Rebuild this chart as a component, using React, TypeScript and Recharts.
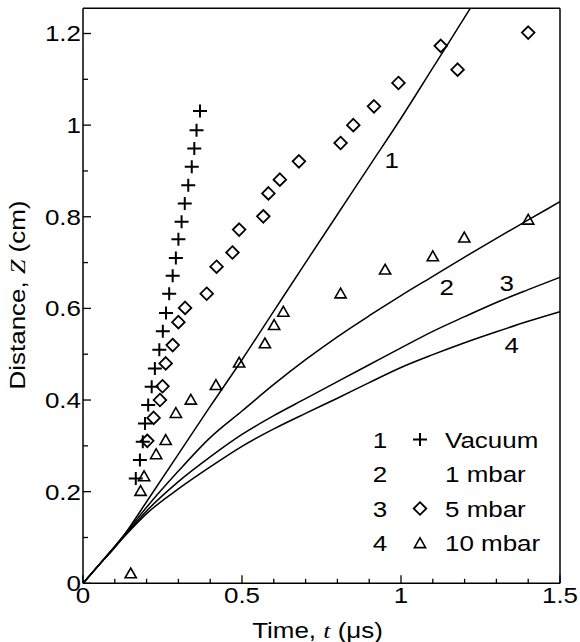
import React from 'react';
import { ComposedChart, Line, Scatter, XAxis, YAxis, ReferenceLine } from 'recharts';

// axis ticks (minor + major) and labelled values
const timeTicks = [0, 0.1, 0.2, 0.3, 0.4, 0.5, 0.6, 0.7, 0.8, 0.9, 1, 1.1, 1.2, 1.3, 1.4, 1.5];
const timeLabels = [0, 0.5, 1, 1.5];
const distTicks = [0, 0.1, 0.2, 0.3, 0.4, 0.5, 0.6, 0.7, 0.8, 0.9, 1, 1.1, 1.2];
const distLabels = [0, 0.2, 0.4, 0.6, 0.8, 1, 1.2];
const tMax = 1.5;
const zMax = 1.255;

// measured points
const vacuum = [
  { t: 0.166, z: 0.229 }, { t: 0.179, z: 0.269 }, { t: 0.188, z: 0.309 }, { t: 0.195, z: 0.349 },
  { t: 0.205, z: 0.389 }, { t: 0.216, z: 0.429 }, { t: 0.226, z: 0.469 }, { t: 0.24, z: 0.51 },
  { t: 0.251, z: 0.55 }, { t: 0.261, z: 0.59 }, { t: 0.271, z: 0.632 }, { t: 0.282, z: 0.671 },
  { t: 0.292, z: 0.71 }, { t: 0.3, z: 0.751 }, { t: 0.31, z: 0.789 }, { t: 0.32, z: 0.829 },
  { t: 0.331, z: 0.869 }, { t: 0.342, z: 0.909 }, { t: 0.35, z: 0.949 }, { t: 0.357, z: 0.989 },
  { t: 0.368, z: 1.031 },
];

const mbar5 = [
  { t: 0.202, z: 0.311 }, { t: 0.222, z: 0.361 }, { t: 0.242, z: 0.4 }, { t: 0.25, z: 0.43 },
  { t: 0.26, z: 0.48 }, { t: 0.282, z: 0.52 }, { t: 0.3, z: 0.57 }, { t: 0.321, z: 0.601 },
  { t: 0.389, z: 0.632 }, { t: 0.42, z: 0.691 }, { t: 0.47, z: 0.722 }, { t: 0.491, z: 0.772 },
  { t: 0.567, z: 0.801 }, { t: 0.583, z: 0.851 }, { t: 0.619, z: 0.881 }, { t: 0.679, z: 0.921 },
  { t: 0.81, z: 0.961 }, { t: 0.85, z: 1.0 }, { t: 0.915, z: 1.041 }, { t: 0.992, z: 1.092 },
  { t: 1.125, z: 1.173 }, { t: 1.178, z: 1.121 }, { t: 1.4, z: 1.202 },
];

const mbar10 = [
  { t: 0.15, z: 0.022 }, { t: 0.181, z: 0.202 }, { t: 0.192, z: 0.234 }, { t: 0.23, z: 0.282 },
  { t: 0.26, z: 0.313 }, { t: 0.292, z: 0.372 }, { t: 0.339, z: 0.401 }, { t: 0.418, z: 0.433 },
  { t: 0.491, z: 0.482 }, { t: 0.572, z: 0.524 }, { t: 0.601, z: 0.564 }, { t: 0.63, z: 0.593 },
  { t: 0.81, z: 0.633 }, { t: 0.95, z: 0.685 }, { t: 1.1, z: 0.714 }, { t: 1.199, z: 0.755 },
  { t: 1.4, z: 0.794 },
];

// model curves
const curve1 = [
  { t: 0, z: 0 }, { t: 0.05, z: 0.04 }, { t: 0.1, z: 0.078 }, { t: 0.15, z: 0.126 }, { t: 0.2, z: 0.178 },
  { t: 0.3, z: 0.282 }, { t: 0.4, z: 0.386 }, { t: 0.5, z: 0.488 }, { t: 0.6, z: 0.594 }, { t: 0.7, z: 0.7 },
  { t: 0.8, z: 0.805 }, { t: 0.9, z: 0.91 }, { t: 1.0, z: 1.015 }, { t: 1.1, z: 1.125 }, { t: 1.2, z: 1.235 },
  { t: 1.218, z: 1.255 },
];
const curve2 = [
  { t: 0, z: 0 }, { t: 0.05, z: 0.04 }, { t: 0.1, z: 0.081 }, { t: 0.15, z: 0.123 }, { t: 0.2, z: 0.166 },
  { t: 0.3, z: 0.245 }, { t: 0.4, z: 0.318 }, { t: 0.5, z: 0.376 }, { t: 0.6, z: 0.434 }, { t: 0.7, z: 0.488 },
  { t: 0.8, z: 0.538 }, { t: 0.9, z: 0.584 }, { t: 1.0, z: 0.628 }, { t: 1.1, z: 0.67 }, { t: 1.2, z: 0.712 },
  { t: 1.3, z: 0.753 }, { t: 1.4, z: 0.793 }, { t: 1.5, z: 0.833 },
];
const curve3 = [
  { t: 0, z: 0 }, { t: 0.05, z: 0.04 }, { t: 0.1, z: 0.08 }, { t: 0.15, z: 0.12 }, { t: 0.2, z: 0.158 },
  { t: 0.3, z: 0.222 }, { t: 0.4, z: 0.276 }, { t: 0.5, z: 0.325 }, { t: 0.6, z: 0.366 }, { t: 0.7, z: 0.403 },
  { t: 0.8, z: 0.44 }, { t: 0.9, z: 0.477 }, { t: 1.0, z: 0.514 }, { t: 1.1, z: 0.55 }, { t: 1.2, z: 0.582 },
  { t: 1.3, z: 0.613 }, { t: 1.4, z: 0.641 }, { t: 1.5, z: 0.668 },
];
const curve4 = [
  { t: 0, z: 0 }, { t: 0.05, z: 0.04 }, { t: 0.1, z: 0.079 }, { t: 0.15, z: 0.117 }, { t: 0.2, z: 0.152 },
  { t: 0.3, z: 0.206 }, { t: 0.4, z: 0.254 }, { t: 0.5, z: 0.299 }, { t: 0.6, z: 0.337 }, { t: 0.7, z: 0.371 },
  { t: 0.8, z: 0.404 }, { t: 0.9, z: 0.438 }, { t: 1.0, z: 0.471 }, { t: 1.1, z: 0.499 }, { t: 1.2, z: 0.525 },
  { t: 1.3, z: 0.549 }, { t: 1.4, z: 0.572 }, { t: 1.5, z: 0.593 },
];

const legendRows = [
  { num: '1', name: 'Vacuum', marker: 'plus' },
  { num: '2', name: '1 mbar', marker: 'none' },
  { num: '3', name: '5 mbar', marker: 'diamond' },
  { num: '4', name: '10 mbar', marker: 'triangle' },
];

const FONT = '"Liberation Sans", Arial, Helvetica, sans-serif';
const SERIF = '"Liberation Serif", "Times New Roman", serif';
const SX = 1.18; // glyphs in the original are a bit wider than Arial
const FS = 22;

const Plus = ({ cx, cy }: any) => (
  <path d={`M${cx - 7},${cy}H${cx + 7}M${cx},${cy - 6.5}V${cy + 6.5}`} stroke="#000" strokeWidth={2} fill="none" />
);
const Diamond = ({ cx, cy }: any) => (
  <path
    d={`M${cx},${cy - 6.3}L${cx + 6.3},${cy}L${cx},${cy + 6.3}L${cx - 6.3},${cy}Z`}
    stroke="#000" strokeWidth={1.8} fill="none"
  />
);
const Triangle = ({ cx, cy }: any) => (
  <path
    d={`M${cx},${cy - 5.2}L${cx + 5.6},${cy + 4.6}L${cx - 5.6},${cy + 4.6}Z`}
    stroke="#000" strokeWidth={1.6} fill="none" strokeLinejoin="miter"
  />
);

const XTick = (props: any) => {
  const { x, y, payload } = props;
  const major = timeLabels.includes(payload.value);
  return (
    <g>
      <line x1={x} x2={x} y1={y} y2={y - (major ? 8 : 4.5)} stroke="#000" strokeWidth={1.3} />
      {major && (
        <text transform={`translate(${x},${y + 20}) scale(${SX},1)`} textAnchor="middle"
          fontSize={FS} fontFamily={FONT} fill="#000">
          {String(payload.value)}
        </text>
      )}
    </g>
  );
};

const YTick = (props: any) => {
  const { x, y, payload } = props;
  const major = distLabels.includes(payload.value);
  return (
    <g>
      <line x1={x} x2={x + (major ? 8 : 5)} y1={y} y2={y} stroke="#000" strokeWidth={1.3} />
      {major && (
        <text transform={`translate(${x - 2},${y + 8}) scale(${SX},1)`} textAnchor="end"
          fontSize={FS} fontFamily={FONT} fill="#000">
          {String(payload.value)}
        </text>
      )}
    </g>
  );
};

const T = ({ x, y, children, anchor = 'middle' }: any) => (
  <text transform={`translate(${x},${y}) scale(${SX},1)`} textAnchor={anchor}
    fontSize={FS} fontFamily={FONT} fill="#000">
    {children}
  </text>
);

export default function App() {
  return (
    <div style={{ position: 'absolute', left: 0, top: 0, width: 580, height: 642, background: '#fff' }}>
      <ComposedChart width={580} height={642} margin={{ top: 8.3, right: 20, bottom: 0, left: 0 }}>
        <XAxis
          type="number" dataKey="t" domain={[0, tMax]} ticks={timeTicks} interval={0}
          allowDataOverflow height={58.7} tickSize={0} tickMargin={0} tick={<XTick />}
          tickLine={false} axisLine={{ stroke: '#000', strokeWidth: 1.5 }}
        />
        <YAxis
          type="number" dataKey="z" domain={[0, zMax]} ticks={distTicks} interval={0}
          allowDataOverflow width={83} tickSize={0} tickMargin={0} tick={<YTick />}
          tickLine={false} axisLine={{ stroke: '#000', strokeWidth: 1.5 }}
        />
        <ReferenceLine y={zMax} stroke="#000" strokeWidth={1.5} />
        <ReferenceLine x={tMax} stroke="#000" strokeWidth={1.5} />
        {[curve1, curve2, curve3, curve4].map((c, i) => (
          <Line key={i} data={c} dataKey="z" type="monotone" stroke="#000" strokeWidth={1.5}
            dot={false} activeDot={false} isAnimationActive={false} />
        ))}
        <Scatter data={vacuum} dataKey="z" shape={(p: any) => <Plus cx={p.cx} cy={p.cy} />} isAnimationActive={false} />
        <Scatter data={mbar5} dataKey="z" shape={(p: any) => <Diamond cx={p.cx} cy={p.cy} />} isAnimationActive={false} />
        <Scatter data={mbar10} dataKey="z" shape={(p: any) => <Triangle cx={p.cx} cy={p.cy} />} isAnimationActive={false} />
      </ComposedChart>

      <svg width={580} height={642} style={{ position: 'absolute', left: 0, top: 0, pointerEvents: 'none' }}>
        <text transform={`translate(25,295) rotate(-90) scale(${SX},1)`} textAnchor="middle"
          fontSize={FS} fontFamily={FONT} fill="#000">
          Distance, <tspan fontFamily={SERIF} fontStyle="italic">Z</tspan> (cm)
        </text>
        <T x={317.5} y={638}>
          Time, <tspan fontFamily={SERIF} fontStyle="italic">t</tspan> (μs)
        </T>

        <T x={391.7} y={168.3}>1</T>
        <T x={446.7} y={295}>2</T>
        <T x={506.7} y={290.7}>3</T>
        <T x={511.7} y={353.3}>4</T>

        {legendRows.map((r, i) => {
          const base = 447.5 + i * 34.5;
          const cy = base - 8;
          return (
            <g key={r.num}>
              <T x={380} y={base}>{r.num}</T>
              {r.marker === 'plus' && <Plus cx={420} cy={cy} />}
              {r.marker === 'diamond' && <Diamond cx={420} cy={cy} />}
              {r.marker === 'triangle' && <Triangle cx={420} cy={cy} />}
              <T x={445} y={base} anchor="start">{r.name}</T>
            </g>
          );
        })}
      </svg>
    </div>
  );
}
